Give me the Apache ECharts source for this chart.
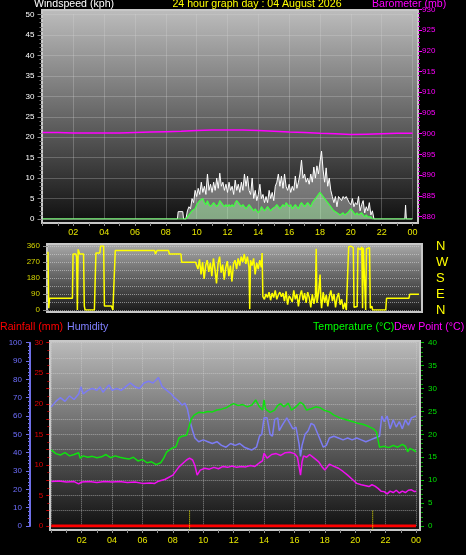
<!DOCTYPE html>
<html><head><meta charset="utf-8">
<script src="https://cdn.jsdelivr.net/npm/echarts@6/dist/echarts.min.js"></script>
<style>html,body{margin:0;padding:0;background:#000;}#c{width:466px;height:555px;}</style>
</head><body><div id="c"></div>
<script>
// ---------- DATA ----------
const titleMain = '24 hour graph day : 04 August 2026';
const dirLetters = ['N', 'E', 'S', 'W', 'N']; // for 0,90,180,270,360

// Barometer (mb), hourly 0..24
const baroTimes = [0,1,2,3,4,5,6,7,8,9,10,11,12,13,14,15,16,17,18,19,20,21,22,23,24];
const baroValues = [900.3,900.3,900.2,900.2,900.2,900.2,900.3,900.4,900.5,900.6,900.8,900.9,900.9,900.9,900.8,900.6,900.4,900.3,900.1,900.0,899.8,899.9,900.0,900.1,900.1];

// Wind speed, dense section 9.3h .. 21.6h every 0.1h
const windStart = 9.3, windStep = 0.1;
const gustDense = [
  0,2,3,2.5,5,4,7,
  5.5,7.5,6,9,6.5,8,6,11,7,8.5,
  6.5,9,7,10,7.5,11.2,8,9,7,8.5,
  6.5,9,7,8,6,9.5,7,8.5,6.5,9,
  7,11,8,10.5,7,6,10,5,7,4.5,
  6,8.5,5,6,4,5.5,4,7,5,6.5,
  4.5,8,9,11,8,10.5,7.5,11,8,7,
  8.5,6.5,8,7,10.5,7.5,9,11,14.4,10,
  11,9,10,8.5,11,9,12.7,10,13,11,
  14,16.6,12,9,12.5,8,10,7,5.5,4,
  5.5,3,5.5,5.5,4.5,5.5,5,5.5,5.5,4,
  3.5,5,3,4,3.5,5.5,2,3.5,4.5,1.5,
  3,2,4,1,2,0,0];
const avgDense = [
  0,0.5,1,1.5,2,2,2.5,
  3.5,4,4.5,4.5,5,4,3.5,4.5,3.5,3,
  3.5,4,3.5,3,3.5,4.5,4,3.5,3,3.5,
  3,3.5,3,3.5,3,4,4.5,4,3.5,3,
  3.5,3,2.5,3,3.5,3,2.5,2,2.5,2,
  1.5,2,3,2.5,2,2.5,3,2.5,2,2.5,
  2.5,3,3.5,3,2.5,3,3.5,3,4,3.5,
  3,3.5,2.5,3,3.5,3,2.5,3.5,4,3.5,
  3,3.5,4,3.5,3,4,4.5,5,5.5,6,
  6.5,6,6,5,4.5,4,3.5,3,2.5,2,
  2,1.5,1.5,1,1,1.5,1,1,1.5,2,
  2.5,2,1.5,1,1.5,1,1,1.5,1,0.5,
  1,0.5,0.5,0.5,0,0,0];
const gustExtraTimes  = [0, 8.75, 8.8, 9.1, 9.15, 21.7, 23.5, 23.55, 23.6, 24];
const gustExtraValues = [0, 0,    1.8, 1.8, 0,    0,    0,    3.4,   0,    0];
const avgExtraTimes  = [0, 21.7, 24];
const avgExtraValues = [0, 0,    0];

// Wind direction (degrees)
const dirTimes = [0.0,0.05,0.1,1.58,1.62,1.8,1.85,1.9,1.95,2.05,2.3,2.35,2.4,3.0,3.1,3.35,3.4,3.6,3.65,4.1,4.2,4.3,4.35,6.9,6.95,7.05,7.8,7.85,8.6,8.65,9.55,
 9.6,9.7,9.8,9.9,10.0,10.1,10.2,10.3,10.4,10.5,10.6,10.7,10.8,10.9,11.0,11.1,11.2,11.3,11.4,11.5,11.6,11.7,11.8,11.9,12.0,12.1,12.2,12.3,12.4,12.5,12.6,12.7,12.8,12.9,13.0,13.05,13.1,13.2,13.3,13.4,13.5,13.6,13.7,13.8,13.85,13.9,
 14.0,14.1,14.2,14.3,14.4,14.5,14.6,14.7,14.8,14.9,15.0,15.1,15.2,15.3,15.4,15.5,15.6,15.7,15.8,15.9,16.0,16.1,16.2,16.3,16.4,16.5,16.6,16.7,16.8,16.9,17.0,17.1,17.2,17.3,17.35,17.4,17.5,17.6,17.65,17.7,17.8,17.9,18.0,18.1,18.2,18.3,18.4,18.5,18.6,18.7,18.8,18.9,19.0,19.1,19.2,19.3,19.4,
 19.45,19.6,19.75,19.8,20.0,20.05,20.2,20.3,20.35,20.4,20.5,20.55,20.6,20.8,20.85,20.95,21.0,21.85,21.9,23.35,23.4,24.0];
const dirValues = [328,10,66,66,315,315,300,0,341,315,315,22,0,0,320,320,360,360,22,22,0,0,334,334,315,334,334,315,315,268,268,
 260,230,285,200,270,175,250,280,215,265,190,290,230,150,260,300,210,255,170,240,275,190,250,160,260,280,230,290,250,300,270,315,260,300,240,5,280,250,290,200,265,230,280,240,320,75,
 60,90,70,100,55,95,70,110,60,85,100,75,95,50,105,30,80,65,45,110,60,90,20,80,110,55,95,40,100,70,15,90,35,80,345,40,95,200,60,10,100,40,85,20,75,110,50,90,15,70,95,30,60,5,40,0,0,
 355,360,350,15,20,350,340,355,10,350,355,0,345,350,10,22,0,0,66,66,88,88];

// Humidity (%)
const humTimes = [0.0,0.3,0.6,0.9,1.2,1.5,1.8,1.95,2.1,2.4,2.7,3.0,3.2,3.4,3.6,3.8,4.0,4.3,4.6,4.9,5.2,5.5,5.8,6.1,6.4,6.7,7.05,7.3,7.6,7.9,8.1,8.4,8.6,8.8,8.95,9.1,9.3,9.45,9.7,10.0,10.3,10.6,10.9,11.2,11.5,11.8,12.1,12.4,12.7,13.0,13.2,13.5,13.7,13.85,14.0,14.2,14.4,14.55,14.7,14.9,15.0,15.2,15.5,15.7,15.9,16.1,16.3,16.4,16.5,16.7,16.9,17.1,17.3,17.6,17.9,18.1,18.3,18.6,18.9,19.2,19.5,19.8,20.1,20.4,20.7,21.0,21.3,21.6,21.75,21.9,22.1,22.3,22.5,22.7,22.9,23.1,23.3,23.5,23.7,24.0];
const humValues = [65,68,70,68,71,69,72,76,72,74,75,74,76,73,75,77,74,75,74,76,78,76,75,78,79,78,81,76,74,72,70,68,66,67,64,58,52,48,46,47,46,45,46,44,43,45,44,45,43,42,41.5,43,49,50,59,59,50,49,58,59,52,55,59,56,53,54,45,38,44,50,52,56,55,49,43,44,48,49,48,47,48,47,48,47,46,47,48,49,60,57,60,53,58,54,57,53,58,55,59,60];

// Temperature (°C)
const tempTimes = [0.0,0.3,0.6,0.9,1.2,1.5,1.8,1.9,2.1,2.4,2.7,3.0,3.3,3.6,3.9,4.2,4.5,4.8,5.1,5.4,5.7,6.0,6.3,6.6,6.9,7.2,7.4,7.6,7.9,8.2,8.4,8.6,8.9,9.05,9.2,9.4,9.7,10.0,10.3,10.6,10.9,11.2,11.5,11.8,12.0,12.3,12.6,12.9,13.2,13.45,13.7,13.9,14.0,14.1,14.4,14.7,14.9,15.1,15.3,15.6,15.8,16.1,16.4,16.6,16.8,17.1,17.4,17.7,18.0,18.3,18.6,19.0,19.4,19.8,20.1,20.5,20.9,21.2,21.4,21.6,21.9,22.2,22.5,22.8,23.1,23.3,23.45,23.6,23.8,24.0];
const tempValues = [16.6,15.8,15.5,16.0,15.3,15.6,16.0,14.8,15.3,15.0,15.2,14.9,15.1,15.6,14.9,15.3,15.0,14.8,14.6,15.0,14.2,14.5,13.8,14.0,13.4,13.8,14.8,16.2,16.9,17.3,19.2,19.6,19.8,21.5,23.3,24.2,24.8,24.7,25.0,24.9,25.3,25.5,25.8,26.4,26.7,26.3,26.5,26.0,26.4,27.5,26.0,25.3,27.5,25.5,24.8,25.3,26.3,26.7,26.0,26.8,25.3,26.0,27.0,26.5,25.3,25.6,26.0,25.8,25.2,24.9,24.2,23.6,23.2,22.8,22.5,22.2,21.7,21.2,20.5,17.2,17.4,17.1,17.6,17.2,17.8,17.4,16.2,16.9,16.6,16.2];

// Dew point (°C)
const dewTimes = [0.0,0.5,1.0,1.5,1.8,2.0,2.5,3.0,3.5,4.0,4.5,5.0,5.5,6.0,6.5,6.8,7.0,7.5,8.0,8.4,8.7,8.9,9.1,9.3,9.45,9.6,9.8,10.1,10.4,10.7,11.0,11.3,11.6,11.9,12.2,12.5,12.8,13.1,13.4,13.7,13.9,14.0,14.2,14.3,14.5,14.8,15.1,15.4,15.7,16.0,16.2,16.4,16.5,16.6,16.8,17.0,17.3,17.6,17.8,18.0,18.3,18.6,18.9,19.2,19.5,19.8,20.1,20.4,20.7,20.9,21.1,21.3,21.5,21.7,21.9,22.1,22.3,22.5,22.7,22.9,23.1,23.3,23.5,23.7,23.9,24.0];
const dewValues = [9.7,9.8,9.6,9.7,9.2,9.6,9.7,9.5,9.7,9.6,9.7,9.5,9.6,9.3,9.4,9.3,9.7,10.2,11.1,12.9,13.8,14.4,14.8,14.4,13.2,11.1,12.2,12.6,12.4,12.8,12.5,13.0,12.8,13.1,12.8,13.0,12.9,13.2,13.0,13.8,14.2,15.9,14.8,14.4,15.6,15.8,15.4,16.0,16.1,15.8,15.0,11.1,14.0,15.3,15.0,15.6,14.8,14.0,13.0,12.2,13.5,13.0,12.6,11.9,11.1,10.2,9.3,9.0,8.8,8.6,9.0,8.7,8.2,7.6,7.5,7.0,7.6,7.3,7.8,7.2,7.6,7.3,7.8,7.9,7.5,7.6];

// Rainfall (mm)
const rainTimes = [0, 24];
const rainValues = [0, 0];
// short yellow markers on the rainfall panel
const markerTimes = [9.1, 21.15];
const markerRange = [-0.6, 2.5];

// ---------- BUILD ----------
const FONT = "'Liberation Sans', Arial, sans-serif";
function pairs(t, v) { return t.map((x, i) => [x, v[i]]); }
function merged(extraT, extraV, dense) {
  const arr = pairs(extraT, extraV).concat(dense.map((v, i) => [+(windStart + i * windStep).toFixed(2), v]));
  arr.sort((a, b) => a[0] - b[0]);
  return arr;
}
function hourLabel(v) {
  if (v <= 0 || v % 2 !== 0) return '';
  const h = v % 24;
  return (h < 10 ? '0' : '') + h;
}
const gridLine = { show: true, lineStyle: { color: 'rgba(215,215,215,0.55)', type: 'dotted', width: 1 } };
const noLine = { show: false, onZero: false };
function grad(top, bottom) {
  return new echarts.graphic.LinearGradient(0, 0, 0, 1, [{ offset: 0, color: top }, { offset: 1, color: bottom }]);
}
function txt(text, x, y, color, align) {
  return { type: 'text', x: x, y: y, z: 10, style: { text: text, fill: color, font: '10.6px ' + FONT, textAlign: align || 'left', textVerticalAlign: 'middle' } };
}

const chart = echarts.init(document.getElementById('c'), null, { renderer: 'canvas' });
const option = {
  backgroundColor: '#000',
  animation: false,
  graphic: { elements: [
    { type: 'rect', z: -1, shape: { x: 42, y: 10, width: 376, height: 213 }, style: { fill: grad('#bdbdbd', '#0e0e0e'), stroke: '#c8c8c8', lineWidth: 2 } },
    { type: 'rect', z: -1, shape: { x: 47, y: 244, width: 375, height: 68 }, style: { fill: grad('#ababab', '#161616'), stroke: '#c8c8c8', lineWidth: 2 } },
    { type: 'rect', z: -1, shape: { x: 50, y: 341, width: 370, height: 189 }, style: { fill: grad('#bcbcbc', '#0e0e0e'), stroke: '#c8c8c8', lineWidth: 2 } },
    txt('Windspeed (kph)', 34, 4, '#ffffff'),
    txt(titleMain, 257, 4, '#ffff00', 'center'),
    txt('Barometer (mb)', 372, 4, '#ff00ff'),
    txt('Rainfall (mm)', 0, 327, '#ff0000'),
    txt('Humidity', 67, 327, '#8080ff'),
    txt('Temperature (\u00b0C)', 313, 327, '#00ff00'),
    txt('Dew Point (\u00b0C)', 394, 327, '#ff00ff')
  ]},
  grid: [
    { left: 42.5, top: 14.5, width: 370, height: 204.5 },
    { left: 42.5, top: 9.3, width: 370, height: 207.4 },
    { left: 48, top: 246, width: 371, height: 64 },
    { left: 51.3, top: 342.7, width: 364.7, height: 183.3 }
  ],
  xAxis: [
    { type: 'value', gridIndex: 0, min: 0, max: 24, interval: 2, offset: 4,
      axisLine: noLine, axisTick: { show: true, length: 3, lineStyle: { color: '#909090' } },
      minorTick: { show: true, splitNumber: 2, length: 3, lineStyle: { color: '#909090' } },
      axisLabel: { formatter: hourLabel, color: '#e6e600', fontSize: 9, fontFamily: FONT, margin: 5, showMinLabel: true, showMaxLabel: true },
      splitLine: gridLine },
    { type: 'value', gridIndex: 1, min: 0, max: 24, show: false, axisLine: noLine },
    { type: 'value', gridIndex: 2, min: 0, max: 24, show: false, axisLine: noLine },
    { type: 'value', gridIndex: 3, min: 0, max: 24, interval: 2, offset: 4,
      axisLine: noLine, axisTick: { show: true, length: 3, lineStyle: { color: '#909090' } },
      minorTick: { show: true, splitNumber: 2, length: 3, lineStyle: { color: '#909090' } },
      axisLabel: { formatter: hourLabel, color: '#e6e600', fontSize: 9, fontFamily: FONT, margin: 6, showMinLabel: true, showMaxLabel: true },
      splitLine: gridLine }
  ],
  yAxis: [
    { type: 'value', gridIndex: 0, min: 0, max: 50, interval: 5, position: 'left',
      axisLine: noLine, axisTick: { show: true, length: 5, lineStyle: { color: '#8a8a8a' } },
      minorTick: { show: true, splitNumber: 5, length: 3, lineStyle: { color: '#7a7a7a' } },
      axisLabel: { color: '#ffffff', fontSize: 8, fontFamily: FONT, margin: 8 },
      splitLine: gridLine },
    { type: 'value', gridIndex: 1, min: 880, max: 930, interval: 5, position: 'right', offset: 5.5,
      axisLine: noLine, axisTick: { show: true, length: 4, lineStyle: { color: '#ff00ff' } },
      minorTick: { show: true, splitNumber: 5, length: 2, lineStyle: { color: '#cc00cc' } },
      axisLabel: { color: '#ff00ff', fontSize: 8, fontFamily: FONT, margin: 4 },
      splitLine: { show: false } },
    { type: 'value', gridIndex: 2, min: 0, max: 360, interval: 45, position: 'left',
      axisLine: noLine, axisTick: { show: true, length: 5, lineStyle: { color: '#8a8a8a' } },
      axisLabel: { color: '#d4d400', fontSize: 8, fontFamily: FONT, margin: 8, formatter: v => (v % 90 === 0 ? String(v) : '') },
      splitLine: gridLine },
    { type: 'value', gridIndex: 2, min: 0, max: 360, interval: 90, position: 'right',
      axisLine: noLine, axisTick: { show: false },
      axisLabel: { color: '#ffff00', fontSize: 13, fontFamily: FONT, margin: 17, formatter: v => dirLetters[v / 90] },
      splitLine: { show: false } },
    { type: 'value', gridIndex: 3, min: 0, max: 100, interval: 10, position: 'left', offset: 21.3,
      axisLine: { show: true, onZero: false, lineStyle: { color: '#6f6fe8', width: 2 } },
      axisTick: { show: true, length: 4, lineStyle: { color: '#6f6fe8' } },
      minorTick: { show: true, splitNumber: 5, length: 2, lineStyle: { color: '#6f6fe8' } },
      axisLabel: { color: '#6f6fff', fontSize: 8, fontFamily: FONT, margin: 8 },
      splitLine: { show: false } },
    { type: 'value', gridIndex: 3, min: 0, max: 30, interval: 2.5, position: 'left', offset: 2,
      axisLine: noLine, axisTick: { show: true, length: 3, lineStyle: { color: '#cc0000' } },
      minorTick: { show: true, splitNumber: 2, length: 2, lineStyle: { color: '#aa0000' } },
      axisLabel: { color: '#e00000', fontSize: 8, fontFamily: FONT, margin: 6, formatter: v => (v % 5 === 0 ? String(v) : '') },
      splitLine: gridLine },
    { type: 'value', gridIndex: 3, min: 0, max: 40, interval: 5, position: 'right', offset: 5,
      axisLine: noLine, axisTick: { show: true, length: 3, lineStyle: { color: '#00c000' } },
      minorTick: { show: true, splitNumber: 5, length: 2, lineStyle: { color: '#00a000' } },
      axisLabel: { color: '#00e000', fontSize: 8, fontFamily: FONT, margin: 7 },
      splitLine: { show: false } }
  ],
  series: [
    { name: 'Barometer', type: 'line', xAxisIndex: 1, yAxisIndex: 1, data: pairs(baroTimes, baroValues), symbol: 'none', lineStyle: { color: '#ff00ff', width: 1.5 }, z: 3 },
    { name: 'Gust', type: 'line', xAxisIndex: 0, yAxisIndex: 0, data: merged(gustExtraTimes, gustExtraValues, gustDense), symbol: 'none',
      lineStyle: { color: '#ffffff', width: 1 }, areaStyle: { color: 'rgba(235,235,235,0.58)' }, z: 4 },
    { name: 'Average', type: 'line', xAxisIndex: 0, yAxisIndex: 0, data: merged(avgExtraTimes, avgExtraValues, avgDense), symbol: 'none',
      lineStyle: { color: '#40ff40', width: 1.2 }, areaStyle: { color: 'rgba(170,255,170,0.6)' }, z: 5 },
    { name: 'Direction', type: 'line', xAxisIndex: 2, yAxisIndex: 2, data: pairs(dirTimes, dirValues), symbol: 'none', lineStyle: { color: '#ffff00', width: 1.5 }, z: 4 },
    { name: 'Humidity', type: 'line', xAxisIndex: 3, yAxisIndex: 4, data: pairs(humTimes, humValues), symbol: 'none', lineStyle: { color: '#7c7cf4', width: 1.5 }, z: 4 },
    { name: 'Temperature', type: 'line', xAxisIndex: 3, yAxisIndex: 6, data: pairs(tempTimes, tempValues), symbol: 'none', lineStyle: { color: '#10e010', width: 1.5 }, z: 5 },
    { name: 'Dew Point', type: 'line', xAxisIndex: 3, yAxisIndex: 6, data: pairs(dewTimes, dewValues), symbol: 'none', lineStyle: { color: '#f010f0', width: 1.5 }, z: 5 },
    { name: 'Rainfall', type: 'line', xAxisIndex: 3, yAxisIndex: 5, data: pairs(rainTimes, rainValues), symbol: 'none', lineStyle: { color: '#ff0000', width: 3 }, z: 6 }
  ].concat(markerTimes.map(t => ({
    type: 'line', xAxisIndex: 3, yAxisIndex: 5, clip: false, symbol: 'none', z: 6,
    data: [[t, markerRange[0]], [t, markerRange[1]]],
    lineStyle: { color: '#e8e800', width: 1, type: 'dotted' }
  })))
};
chart.setOption(option);
</script>
</body></html>
